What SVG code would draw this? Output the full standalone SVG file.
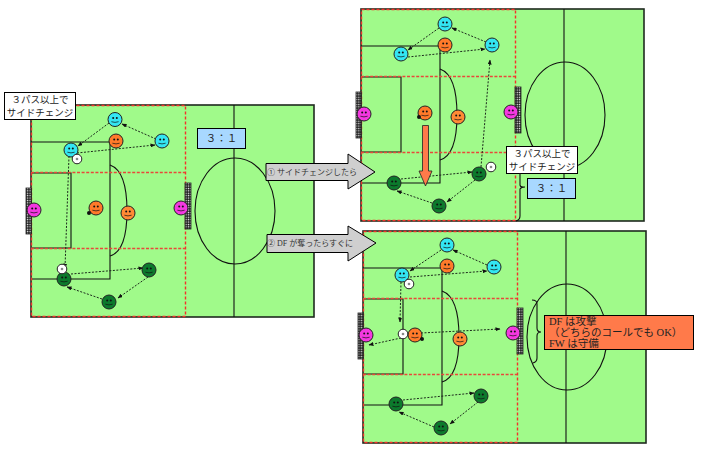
<svg xmlns="http://www.w3.org/2000/svg" width="710" height="463" viewBox="0 0 710 463">
<style>
.bg{fill:#a0fa8a;stroke:#1f2a1f;stroke-width:1.6}
.ln{fill:none;stroke:#111;stroke-width:1.1}
.rd{fill:none;stroke:#f5302a;stroke-width:1.4;stroke-dasharray:3 2}
.rd2{fill:none;stroke:#e8483a;stroke-width:1.5;stroke-dasharray:3 1.6}
.pass{fill:none;stroke:#1c2a1c;stroke-width:1;stroke-dasharray:2 1.5;marker-end:url(#ah)}
.box{stroke:#000;stroke-width:1}
text{font-family:"Liberation Serif","Noto Sans CJK JP",serif;font-size:9.500px;fill:#222}
.t8{font-size:8px;fill:#333}
.t10{font-size:10.500px}
.c{fill:#33e6f2}.o{fill:#ff7a2a}.o2{fill:#ff8a35}.m{fill:#f438e0}.g{fill:#0c7a2c}
.f{stroke:#222;stroke-width:1}
.e{fill:#111}
.mt{fill:none;stroke:#111;stroke-width:.7}
.bl{fill:#fff;stroke:#222;stroke-width:1}
.ar{fill:#cfcfcf;stroke:#000;stroke-width:1}
.gl{fill:url(#net);stroke:#222;stroke-width:.8}
</style>
<defs>
<marker id="ah" markerWidth="5" markerHeight="4" refX="4.500" refY="2" orient="auto" markerUnits="userSpaceOnUse"><path d="M0 0L5 2L0 4Z" fill="#111"/></marker>
<pattern id="net" width="2.400" height="2.400" patternUnits="userSpaceOnUse"><rect width="2.400" height="2.400" fill="#111"/><rect x=".6" y=".6" width="1.300" height="1.300" fill="#fff"/></pattern>
<g id="face"><circle r="7" class="f"/><circle cx="-1.800" cy="-1.500" r="1" class="e"/><circle cx="1.800" cy="-1.500" r="1" class="e"/><path d="M-3.600 2.200Q0 3.600 3.600 2.200" class="mt"/></g>
<g id="ball"><circle r="4.800" class="bl"/><circle r="1.300" fill="#888"/></g>
<g id="pitch">
<rect x="0" y="0" width="283" height="212" class="bg"/>
<path d="M203 0V212" class="ln"/>
<ellipse cx="204" cy="106" rx="40" ry="53" class="ln"/>
<path d="M0 37H79V174H0" class="ln"/>
<path d="M0 68H40V143H0" class="ln"/>
<path d="M79 60Q96 66 96 106Q96 146 79 151" class="ln"/>
<rect x="0.500" y="0.500" width="154" height="211" class="rd"/>
<path d="M0 67.500H154M0 143.500H154" class="rd2"/>
</g>
</defs>
<g id="pitch-left"><use href="#pitch" x="31" y="105"/></g>
<g id="pitch-top"><use href="#pitch" x="361" y="9"/></g>
<g id="pitch-bottom"><use href="#pitch" x="363" y="231"/></g>
<g id="goals">
<rect x="26" y="188" width="5.500" height="46" class="gl"/>
<rect x="185" y="183" width="6" height="46" class="gl"/>
<rect x="356" y="92" width="5.500" height="46" class="gl"/>
<rect x="515" y="87" width="6" height="46" class="gl"/>
<rect x="358" y="313" width="5.500" height="46" class="gl"/>
<rect x="517" y="308" width="6" height="46" class="gl"/>
</g>
<g id="connectors">
<path d="M109 123L78 146" class="pass"/><path d="M156 139L122 124" class="pass"/><path d="M77 153L155 145" class="pass"/>
<path d="M69 156L65 268" class="pass"/>
<path d="M71 274L143 268" class="pass"/><path d="M148 277L118 298" class="pass"/><path d="M102 299L67 287" class="pass"/>
<path d="M439 28L408 50" class="pass"/><path d="M486 42L452 28" class="pass"/><path d="M408 57L485 49" class="pass"/>
<path d="M481 167L490 60" class="pass"/>
<path d="M401 179L472 172" class="pass"/><path d="M475 180L447 202" class="pass"/><path d="M432 203L397 191" class="pass"/>
<path d="M441 250L410 271" class="pass"/><path d="M487 265L453 250" class="pass"/><path d="M410 277L487 271" class="pass"/>
<path d="M401 282L400 322" class="pass"/><path d="M401 338L369 345" class="pass"/><path d="M421 333L500 329" class="pass"/>
<path d="M403 400L474 393" class="pass"/><path d="M478 402L450 424" class="pass"/><path d="M434 427L399 412" class="pass"/>
</g>
<g id="p1"><use href="#face" x="115" y="119.500" class="c"/></g>
<g id="p2"><use href="#face" x="162" y="141" class="c"/></g>
<g id="p3"><use href="#face" x="71" y="150" class="c"/></g>
<g id="p4"><use href="#face" x="116" y="141" class="o"/></g>
<g id="p5"><use href="#face" x="96" y="208" class="o"/><circle cx="89" cy="213" r="2" fill="#111"/></g>
<g id="p6"><use href="#face" x="128" y="213" class="o2"/></g>
<g id="p7"><use href="#face" x="34" y="210" class="m"/></g>
<g id="p8"><use href="#face" x="181" y="208" class="m"/></g>
<g id="p9"><use href="#face" x="64" y="279" class="g"/></g>
<g id="p10"><use href="#face" x="149" y="270" class="g"/></g>
<g id="p11"><use href="#face" x="109" y="302" class="g"/></g>
<g id="b1"><use href="#ball" x="77" y="159"/></g>
<g id="b2"><use href="#ball" x="62" y="269"/></g>
<g id="q1"><use href="#face" x="445" y="24" class="c"/></g>
<g id="q2"><use href="#face" x="492" y="45" class="c"/></g>
<g id="q3"><use href="#face" x="401" y="54" class="c"/></g>
<g id="q4"><use href="#face" x="445" y="45" class="o"/></g>
<g id="q5"><use href="#face" x="425" y="113" class="o"/><circle cx="419" cy="117" r="2" fill="#111"/></g>
<g id="q6"><use href="#face" x="458" y="117" class="o2"/></g>
<g id="q7"><use href="#face" x="364" y="114" class="m"/></g>
<g id="q8"><use href="#face" x="511" y="112" class="m"/></g>
<g id="q9"><use href="#face" x="394" y="183" class="g"/></g>
<g id="q10"><use href="#face" x="479" y="174" class="g"/></g>
<g id="q11"><use href="#face" x="439" y="206" class="g"/></g>
<g id="b3"><use href="#ball" x="491" y="167"/></g>
<g id="r1"><use href="#face" x="447" y="245" class="c"/></g>
<g id="r2"><use href="#face" x="494" y="267" class="c"/></g>
<g id="r3"><use href="#face" x="402" y="275" class="c"/></g>
<g id="r4"><use href="#face" x="447" y="266" class="o"/></g>
<g id="r5"><use href="#face" x="415" y="335" class="o"/><circle cx="422" cy="339" r="2" fill="#111"/></g>
<g id="r6"><use href="#face" x="460" y="339" class="o2"/></g>
<g id="r7"><use href="#face" x="366" y="335" class="m"/></g>
<g id="r8"><use href="#face" x="513" y="333" class="m"/></g>
<g id="r9"><use href="#face" x="396" y="404" class="g"/></g>
<g id="r10"><use href="#face" x="481" y="396" class="g"/></g>
<g id="r11"><use href="#face" x="441" y="428" class="g"/></g>
<g id="b4"><use href="#ball" x="409" y="284"/></g>
<g id="b5"><use href="#ball" x="403" y="334"/></g>
<g id="arrow1"><path d="M266 163.500H348V154L375 172L348 189V180.500H266Z" class="ar"/><text x="267" y="175" class="t8">① サイドチェンジしたら</text></g>
<g id="arrow2"><path d="M267 234.500H348V226L376 243L348 261V252.500H267Z" class="ar"/><text x="267" y="246" class="t8">② DF が奪ったらすぐに</text></g>
<g id="arrow3"><path d="M422.500 125.500H428.500V171H432L425.500 186L419 171H422.500Z" fill="#ff7a4a" stroke="#222" stroke-width=".8"/></g>
<g id="label1"><rect x="4.500" y="92.500" width="71" height="27" fill="#fff" class="box"/><text x="40" y="103" text-anchor="middle">３パス以上で</text><text x="40" y="116" text-anchor="middle">サイドチェンジ</text></g>
<g id="label2"><rect x="506.500" y="146.500" width="71" height="27" fill="#fff" class="box"/><text x="542" y="157" text-anchor="middle">３パス以上で</text><text x="542" y="170" text-anchor="middle">サイドチェンジ</text></g>
<g id="score1"><rect x="197.500" y="128.500" width="48" height="20" fill="#a8d8ff" class="box"/><text x="221.500" y="142" text-anchor="middle" class="t10">３：１</text></g>
<g id="score2"><rect x="527.500" y="178.500" width="48" height="20" fill="#a8d8ff" class="box"/><text x="551.500" y="192" text-anchor="middle" class="t10">３：１</text></g>
<g id="brace1"><path d="M520 173V185Q520 187 523 187L525 187Q521 187 520 189V216Q520 220 516 221" class="ln"/></g>
<g id="brace2"><path d="M532 300Q537 300 537 304V328Q537 332 541 332Q537 332 537 336V358Q537 362 533 363" class="ln"/></g>
<g id="note"><rect x="544.500" y="315.500" width="149" height="34" fill="#ff7a4a" class="box"/><text x="549" y="325" class="t10">DF は攻撃</text><text x="549" y="336" class="t10">（どちらのコールでも OK）</text><text x="549" y="347" class="t10">FW は守備</text></g>
</svg>
